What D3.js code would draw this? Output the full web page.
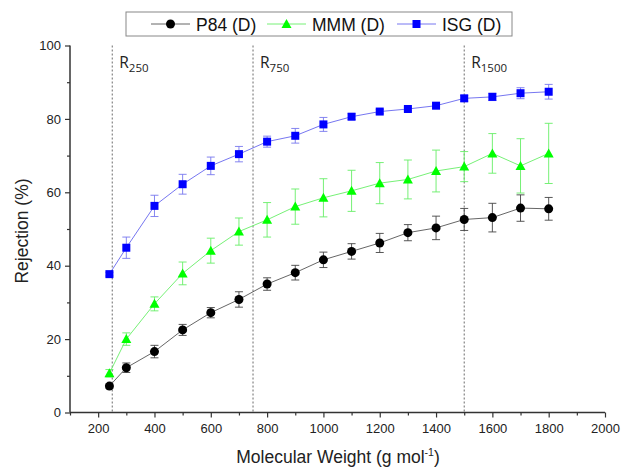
<!DOCTYPE html>
<html><head><meta charset="utf-8">
<script src="https://cdn.jsdelivr.net/npm/d3@7/dist/d3.min.js"></script>
<style>body{margin:0;background:#fff}svg{display:block}</style>
</head><body>
<svg id="c" width="621" height="470"></svg>
<script>
const mw = [240,300,400,500,600,700,800,900,1000,1100,1200,1300,1400,1500,1600,1700,1800];
const p84 = [7.2,12.2,16.6,22.5,27.2,30.8,35.0,38.1,41.6,43.9,46.2,49.0,50.3,52.6,53.1,55.7,55.5];
const p84Err = [0.6,1.3,1.7,1.5,1.4,2.1,1.7,2.0,2.1,2.1,2.6,2.2,3.2,3.0,3.9,3.6,3.1];
const mmm = [10.7,20.0,29.6,37.9,44.1,49.3,52.5,56.1,58.5,60.4,62.5,63.5,65.8,67.0,70.6,67.2,70.6];
const mmmErr = [1.0,1.7,1.9,3.1,3.4,3.7,4.7,4.8,5.2,5.6,5.6,5.3,5.7,4.1,5.4,7.4,8.2];
const isg = [37.7,44.9,56.3,62.2,67.2,70.4,73.8,75.4,78.5,80.6,82.0,82.7,83.6,85.6,86.0,87.0,87.4];
const isgErr = [0.5,2.9,2.9,2.7,2.4,2.1,1.5,2.0,1.9,0.8,0.6,0.5,0.7,0.8,1.0,1.5,2.0];
const seriesNames = ["P84 (D)","MMM (D)","ISG (D)"];
const xTicks = [200,400,600,800,1000,1200,1400,1600,1800,2000];
const yTicks = [0,20,40,60,80,100];
const refLines = [250,750,1500];
const refLabels = ["250","750","1500"];

const svg = d3.select("#c");
const x = d3.scaleLinear().domain([100,2000]).range([70,605]);
const y = d3.scaleLinear().domain([0,100]).range([412.5,45.5]);
const font = "'Liberation Sans', Arial, sans-serif";

refLines.forEach((v,i)=>{
  svg.append("line").attr("x1",x(v)).attr("x2",x(v)).attr("y1",y(100)).attr("y2",y(0))
    .attr("stroke","#444").attr("stroke-width",0.8).attr("stroke-dasharray","2,2");
  const t = svg.append("text").attr("x",x(v)+7).attr("y",68)
    .attr("font-family","'Open Sans', 'DejaVu Sans', sans-serif").attr("font-size",15.5).attr("fill","#222");
  t.append("tspan").text("R");
  t.append("tspan").attr("font-size",11.5).attr("dy",4).text(refLabels[i]);
});

const series = [
  {vals:p84, err:p84Err, color:"#000", line:"#555", errc:"#444", shape:"circle"},
  {vals:mmm, err:mmmErr, color:"#00ff00", line:"#66ee66", errc:"#66ee66", shape:"triangle"},
  {vals:isg, err:isgErr, color:"#0000ff", line:"#6666ee", errc:"#7777ee", shape:"square"}
];

function marker(g, shape, color, cx, cy){
  if(shape==="circle") g.append("circle").attr("cx",cx).attr("cy",cy).attr("r",4.5).attr("fill",color);
  else if(shape==="square") g.append("rect").attr("x",cx-4).attr("y",cy-4).attr("width",8).attr("height",8).attr("fill",color);
  else g.append("path").attr("d",`M${cx},${cy-5}L${cx+5},${cy+4}L${cx-5},${cy+4}Z`).attr("fill",color);
}

series.forEach(s=>{
  const g = svg.append("g");
  mw.forEach((m,i)=>{
    const x0 = x(m), y1 = y(s.vals[i]+s.err[i]), y2 = y(s.vals[i]-s.err[i]);
    g.append("line").attr("x1",x0).attr("x2",x0).attr("y1",y1).attr("y2",y2).attr("stroke",s.errc).attr("stroke-width",0.9);
    [y1,y2].forEach(yy=>g.append("line").attr("x1",x0-4).attr("x2",x0+4).attr("y1",yy).attr("y2",yy).attr("stroke",s.errc).attr("stroke-width",0.9));
  });
  const line = d3.line().x((d,i)=>x(mw[i])).y(d=>y(d));
  g.append("path").attr("d",line(s.vals)).attr("fill","none").attr("stroke",s.line).attr("stroke-width",0.9);
  mw.forEach((m,i)=>marker(g,s.shape,s.color,x(m),y(s.vals[i])));
});

const xAxis = svg.append("g").attr("transform",`translate(0,${y(0)})`)
  .call(d3.axisBottom(x).tickValues(xTicks).tickSize(5).tickPadding(6).tickFormat(d3.format("d")));
svg.append("g").attr("transform",`translate(0,${y(0)})`)
  .call(d3.axisBottom(x).tickValues(d3.range(100,2000,200)).tickSize(3).tickFormat(""))
  .select(".domain").remove();
const yAxis = svg.append("g").attr("transform",`translate(${x(100)},0)`)
  .call(d3.axisLeft(y).tickValues(yTicks).tickSize(5).tickPadding(4));
svg.append("g").attr("transform",`translate(${x(100)},0)`)
  .call(d3.axisLeft(y).tickValues([10,30,50,70,90]).tickSize(3).tickFormat(""))
  .select(".domain").remove();
svg.selectAll(".domain").attr("stroke","#333").attr("stroke-width",1.5);
svg.selectAll(".tick line").attr("stroke","#333").attr("stroke-width",1.2);
svg.selectAll(".tick text").attr("font-family",font).attr("font-size",13).attr("fill","#222");
xAxis.select(".domain").attr("d",`M${x(100)},0H${x(2000)}`);
yAxis.select(".domain").attr("d",`M0,${y(0)}V${y(100)}`);

const xt = svg.append("text").attr("x",338).attr("y",463).attr("text-anchor","middle")
  .attr("font-family",font).attr("font-size",17.5).attr("fill","#222");
xt.append("tspan").text("Molecular Weight (g mol");
xt.append("tspan").attr("font-size",10.5).attr("dy",-7).text("-1");
xt.append("tspan").attr("dy",7).text(")");
svg.append("text").attr("transform",`translate(28,231) rotate(-90)`).attr("text-anchor","middle")
  .attr("font-family",font).attr("font-size",17.5).attr("fill","#222").text("Rejection (%)");

const lg = svg.append("g");
lg.append("rect").attr("x",126).attr("y",12).attr("width",386).attr("height",24)
  .attr("fill","#fff").attr("stroke","#888").attr("stroke-width",1);
const lx = [151,267,397];
series.forEach((s,i)=>{
  lg.append("line").attr("x1",lx[i]).attr("x2",lx[i]+39).attr("y1",24).attr("y2",24).attr("stroke",s.line).attr("stroke-width",0.9);
  marker(lg,s.shape,s.color,lx[i]+19.5,24);
  lg.append("text").attr("x",lx[i]+45).attr("y",30.5).attr("font-family",font).attr("font-size",17.5).attr("fill","#111").text(seriesNames[i]);
});
</script>
</body></html>
